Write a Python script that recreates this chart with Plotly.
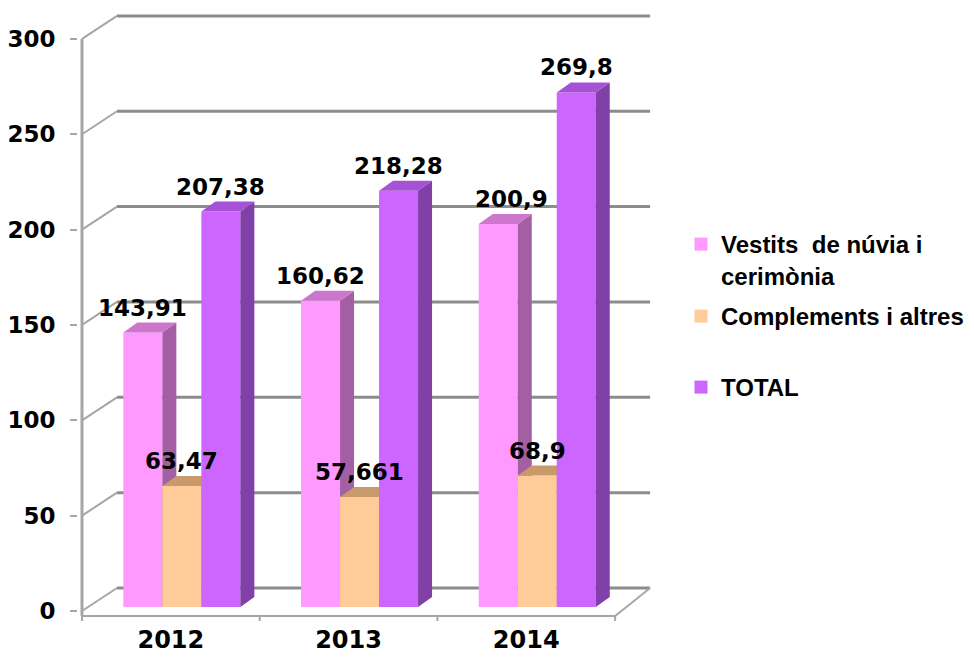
import plotly.graph_objects as go

# ---------------- data ----------------
years = ["2012", "2013", "2014"]
series_names = ["Vestits  de núvia i<br>cerimònia", "Complements i altres", "TOTAL"]
vestits = [143.91, 160.62, 200.9]
complements = [63.47, 57.661, 68.9]
total = [207.38, 218.28, 269.8]
y_ticks = [0, 50, 100, 150, 200, 250, 300]

series_values = [vestits, complements, total]

# ---------------- styles ----------------
FRONT = ["#FF99FF", "#FFCC99", "#CC66FF"]
SIDE = ["#A45FA4", "#C4956A", "#8040A8"]
TOP = ["#CC77CC", "#C8996B", "#A552D6"]
GRID = "#8c8c8c"
EDGE = "#a6a6a6"
NUM_FONT = dict(family="DejaVu Sans", size=23, color="black", weight="bold")

# ---------------- geometry (window pixels -> axis units) ----------------
PAGE_MARGIN = 8       # default body margin of the html page
WIN_W, WIN_H = 974, 658
FIG_W, FIG_H = WIN_W - PAGE_MARGIN, WIN_H - PAGE_MARGIN
PX_X = 177.7          # pixels per category
PX_Y = 1.907          # pixels per value unit
X0_PX, Y0_PX = 82, 611  # front-plane origin (window pixels)
L_PX, R_PX, T_PX, B_PX = 78, 656, 11, 623


def ux(px):
    return px / PX_X


def uy(px):
    return px / PX_Y


WALL_DX, WALL_DY = ux(35), uy(23)
BAR_W = ux(39)
BAR_SHIFT_X = ux(11)
BAR_BASE = uy(4)
SIDE_DX, SIDE_DY = ux(14), uy(10)
FLOOR_DROP = uy(5)
LABEL_GAP_PX = 25
# horizontal nudges of the data labels, [year][series], in pixels
LABEL_DX_PX = [[0, 0, 0], [0, 0, 0], [13, 0, 0]]

x_range = [-0.5 - ux(X0_PX - L_PX), -0.5 + ux(R_PX - X0_PX)]
y_range = [-uy(B_PX - Y0_PX), uy(Y0_PX - T_PX)]


def fmt(v):
    return str(v).replace(".", ",")


fig = go.Figure()

# 3D-looking columns: front, side and top faces built from the values
for k, vals in enumerate(series_values):
    fx, fy, sx, sy, tx, ty = [], [], [], [], [], []
    for i, v in enumerate(vals):
        xl = i + BAR_SHIFT_X + (k - 1.5) * BAR_W
        xr = xl + BAR_W
        b = BAR_BASE
        t = b + v
        fx += [xl, xr, xr, xl, xl, None]
        fy += [b, b, t, t, b, None]
        sx += [xr, xr + SIDE_DX, xr + SIDE_DX, xr, xr, None]
        sy += [b, b + SIDE_DY, t + SIDE_DY, t, b, None]
        tx += [xl, xr, xr + SIDE_DX, xl + SIDE_DX, xl, None]
        ty += [t, t, t + SIDE_DY, t + SIDE_DY, t, None]
    for xs, ys, col in ((fx, fy, FRONT[k]), (sx, sy, SIDE[k]), (tx, ty, TOP[k])):
        fig.add_trace(go.Scatter(
            x=xs, y=ys, mode="lines", fill="toself", fillcolor=col,
            line=dict(width=0, color=col), hoverinfo="skip", showlegend=False,
        ))

# legend entries (one legend box each, as in the original layout)
legend_ids = ["legend", "legend2", "legend3"]
for k, name in enumerate(series_names):
    fig.add_trace(go.Scatter(
        x=[None], y=[None], mode="markers", name=name,
        marker=dict(symbol="square", size=13, color=FRONT[k]),
        legend=legend_ids[k], showlegend=True,
    ))

# data labels
for k, vals in enumerate(series_values):
    for i, v in enumerate(vals):
        xc = i + BAR_SHIFT_X + (k - 1) * BAR_W
        fig.add_annotation(
            x=xc, y=BAR_BASE + v, text=fmt(v), showarrow=False,
            xshift=LABEL_DX_PX[i][k], yshift=LABEL_GAP_PX, font=NUM_FONT,
        )

# walls / floor
x_left, x_right = -0.5, len(years) - 0.5
shapes = []
for v in y_ticks:
    shapes.append(dict(type="line", xref="x", yref="y", layer="below",
                       x0=x_left + WALL_DX, x1=x_right + WALL_DX,
                       y0=v + WALL_DY, y1=v + WALL_DY,
                       line=dict(color=GRID, width=3)))
    shapes.append(dict(type="line", xref="x", yref="y", layer="below",
                       x0=x_left, x1=x_left + WALL_DX, y0=v, y1=v + WALL_DY,
                       line=dict(color=EDGE, width=2)))
shapes.append(dict(type="line", xref="x", yref="y", layer="below",
                   x0=x_left, x1=x_left, y0=-FLOOR_DROP, y1=y_ticks[-1],
                   line=dict(color=EDGE, width=3)))
shapes.append(dict(type="line", xref="x", yref="y", layer="below",
                   x0=x_left, x1=x_right, y0=-FLOOR_DROP, y1=-FLOOR_DROP,
                   line=dict(color=EDGE, width=2)))
shapes.append(dict(type="line", xref="x", yref="y", layer="below",
                   x0=x_right, x1=x_right + WALL_DX, y0=-FLOOR_DROP, y1=WALL_DY,
                   line=dict(color=EDGE, width=2)))
for j in range(len(years) + 1):
    shapes.append(dict(type="line", xref="x", yref="y", layer="below",
                       x0=j - 0.5, x1=j - 0.5, y0=-FLOOR_DROP, y1=-FLOOR_DROP - uy(5),
                       line=dict(color=EDGE, width=2)))

plot_w = R_PX - L_PX
plot_h = B_PX - T_PX


def lx(px):
    return (px - L_PX) / plot_w


def ly(py):
    return (B_PX - py) / plot_h


LEG_FONT = dict(family="Liberation Sans", size=24, color="black", weight="bold")
leg_common = dict(xanchor="left", yanchor="top", valign="top", font=LEG_FONT,
                  bgcolor="rgba(0,0,0,0)", borderwidth=0, itemclick=False)

fig.update_layout(
    width=FIG_W, height=FIG_H,
    margin=dict(l=L_PX - PAGE_MARGIN, r=FIG_W - (R_PX - PAGE_MARGIN),
                t=T_PX - PAGE_MARGIN, b=FIG_H - (B_PX - PAGE_MARGIN),
                autoexpand=False),
    paper_bgcolor="white", plot_bgcolor="white",
    shapes=shapes,
    xaxis=dict(range=x_range, tickvals=list(range(len(years))), ticktext=years,
               showgrid=False, zeroline=False, showline=False, ticks="",
               tickfont=dict(family="DejaVu Sans", size=24, color="black", weight="bold"),
               fixedrange=True),
    yaxis=dict(range=y_range, tickvals=y_ticks, showgrid=False, zeroline=False,
               showline=False, ticks="outside", ticklen=7, tickcolor=EDGE, tickwidth=2,
               tickfont=NUM_FONT, ticklabelstandoff=10, fixedrange=True),
    legend=dict(x=lx(681), y=ly(222), **leg_common),
    legend2=dict(x=lx(681), y=ly(294), **leg_common),
    legend3=dict(x=lx(681), y=ly(365), **leg_common),
)

fig.write_html("out.html")
